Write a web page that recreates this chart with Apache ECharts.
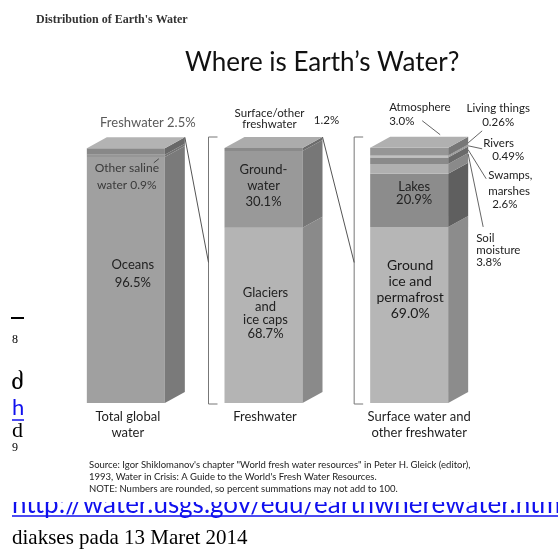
<!DOCTYPE html>
<html>
<head>
<meta charset="utf-8">
<script src="https://cdn.jsdelivr.net/npm/echarts@6/dist/echarts.min.js"></script>
<style>
  html, body { margin: 0; padding: 0; background: #fff; }
  #chart { width: 558px; height: 549px; }
</style>
</head>
<body>
<div id="chart"></div>
<script>
// bars, left to right
const categories = ['Total global\nwater', 'Freshwater', 'Surface water and\nother freshwater'];

// Total global water, bottom -> top
const globalNames = ['Oceans', 'Other saline water', 'Freshwater'];
const globalValues = [96.5, 0.9, 2.5];

// Freshwater, bottom -> top
const freshNames = ['Glaciers and ice caps', 'Groundwater', 'Surface/other freshwater'];
const freshValues = [68.7, 30.1, 1.2];

// Surface water and other freshwater, bottom -> top
const surfaceNames = ['Ground ice and permafrost', 'Lakes', 'Soil moisture', 'Swamps, marshes', 'Rivers', 'Living things', 'Atmosphere'];
const surfaceValues = [69.0, 20.9, 3.8, 2.6, 0.49, 0.26, 3.0];

const FONT = 'Lato, "Open Sans", sans-serif';
const SERIF = '"Liberation Serif", "DejaVu Serif", "DejaVu Sans", serif';
const BAR_W = 78, DX = 20, DY = 11;
const BAR_SHIFT = [0, -4, 0];

// [front, side] per segment
const faceColors = [
  [['#a0a0a0', '#7a7a7a'], ['#969696', '#737373'], ['#888888', '#686868']],
  [['#b4b4b4', '#8a8a8a'], ['#999999', '#777777'], ['#8a8a8a', '#6c6c6c']],
  [['#b6b6b6', '#8c8c8c'], ['#8c8c8c', '#5f5f5f'], ['#b0b0b0', '#8a8a8a'], ['#8a8a8a', '#6a6a6a'],
   ['#b8b8b8', '#969696'], ['#a6a6a6', '#848484'], ['#969696', '#777777']]
];
const topColors = ['#b3b3b3', '#acacac', '#b0b0b0'];

const fmt = v => (Number.isInteger(v) ? v.toFixed(1) : String(v)) + '%';
const sum = a => a.reduce((s, v) => s + v, 0);

function barSeries(catIdx, values) {
  let acc = 0;
  const data = values.map((v, i) => { const d = [catIdx, acc, acc + v, i]; acc += v; return d; });
  return {
    type: 'custom',
    coordinateSystem: 'cartesian2d',
    silent: true,
    animation: false,
    data: data,
    renderItem: (params, api) => {
      const lo = api.coord([api.value(0), api.value(1)]);
      const hi = api.coord([api.value(0), api.value(2)]);
      const seg = api.value(3);
      const x0 = lo[0] + BAR_SHIFT[catIdx] - BAR_W / 2, x1 = x0 + BAR_W;
      const yb = lo[1], yt = hi[1];
      const col = faceColors[catIdx][seg];
      const children = [
        { type: 'rect', shape: { x: x0, y: yt, width: BAR_W, height: yb - yt }, style: { fill: col[0] } },
        { type: 'polygon', shape: { points: [[x1, yt], [x1 + DX, yt - DY], [x1 + DX, yb - DY], [x1, yb]] }, style: { fill: col[1] } }
      ];
      if (seg === values.length - 1) {
        children.push({ type: 'polygon', shape: { points: [[x0, yt], [x0 + DX, yt - DY], [x1 + DX, yt - DY], [x1, yt]] }, style: { fill: topColors[catIdx] } });
      }
      return { type: 'group', children: children };
    }
  };
}

const option = {
  backgroundColor: '#fff',
  animation: false,
  title: [
    { text: "Distribution of Earth's Water", left: 36, top: 14, padding: 0,
      textStyle: { fontFamily: SERIF, fontWeight: 'bold', fontSize: 12, color: '#333' } },
    { text: 'Where is Earth\u2019s Water?', left: 185, top: 50, padding: 0,
      textStyle: { fontFamily: FONT, fontWeight: 'normal', fontSize: 26, color: '#111' } }
  ],
  grid: { left: 55, right: 78, top: 148, bottom: 146 },
  xAxis: { type: 'category', data: categories, show: false },
  yAxis: { type: 'value', min: 0, max: 100, show: false },
  series: [barSeries(0, globalValues), barSeries(1, freshValues), barSeries(2, surfaceValues)]
};

const chart = echarts.init(document.getElementById('chart'));
chart.setOption(option);

// ---- annotations, placed from the grid's own scales ----
const px = (c, v) => { const p = chart.convertToPixel({ gridIndex: 0 }, [c, v]); return [p[0] + BAR_SHIFT[c], p[1]]; };
const midOf = (vals, i) => sum(vals.slice(0, i)) + vals[i] / 2;
const frontMid = (c, vals, i) => px(c, midOf(vals, i));
const backMid = (c, vals, i) => { const p = px(c, midOf(vals, i)); return [p[0] + BAR_W / 2 + DX, p[1] - DY]; };

const g = [];
function T(text, x, y, o) {
  o = o || {};
  g.push({
    type: 'text', z: o.z || 50, silent: true,
    style: {
      text: text, x: x, y: y,
      fill: o.color || '#222',
      font: (o.weight || 'normal') + ' ' + (o.size || 13) + 'px ' + (o.family || FONT),
      textAlign: o.align || 'center', align: o.align || 'center',
      textVerticalAlign: o.va || 'middle', verticalAlign: o.va || 'middle',
      lineHeight: o.lh || Math.round((o.size || 13) * 1.2)
    }
  });
}
function L(points, o) {
  o = o || {};
  g.push({ type: 'polyline', z: o.z || 50, silent: true, shape: { points: points },
    style: { stroke: o.color || '#666', lineWidth: o.width || 1, fill: null } });
}

// inside labels
let a = frontMid(0, globalValues, 0);
T(globalNames[0] + '\n' + fmt(globalValues[0]), a[0] + 7, a[1] - 6, { lh: 18 });
a = frontMid(0, globalValues, 1);
T('Other saline\nwater ' + fmt(globalValues[1]), a[0] + 1, a[1] + 21, { size: 12, lh: 17, color: '#3a3a3a' });
L([[a[0] + 28, a[1] + 7], [a[0] + 33, a[1] + 3]], { color: '#444' });
a = backMid(0, globalValues, 2);
T(globalNames[2] + ' ' + fmt(globalValues[2]), a[0] - 37, a[1] - 18, { size: 13, color: '#5a5a5a' });

a = frontMid(1, freshValues, 0);
T('Glaciers\nand\nice caps\n' + fmt(freshValues[0]), a[0] + 2, a[1] - 2, { lh: 13.5 });
a = frontMid(1, freshValues, 1);
T('Ground-\nwater\n' + fmt(freshValues[1]), a[0], a[1] - 4, { lh: 16 });
a = backMid(1, freshValues, 2);
T('Surface/other\nfreshwater', a[0] - 53, a[1] - 20, { size: 11.5, lh: 11 });
T(fmt(freshValues[2]), a[0] + 4, a[1] - 18, { size: 11.5 });

a = frontMid(2, surfaceValues, 1);
T(surfaceNames[1] + '\n' + fmt(surfaceValues[1]), a[0] + 5, a[1] - 7, { lh: 13 });
a = frontMid(2, surfaceValues, 0);
T('Ground\nice and\npermafrost\n' + fmt(surfaceValues[0]), a[0] + 1, a[1] - 26, { size: 14, lh: 16, color: '#1a1a1a' });

// callouts on the right bar
a = backMid(2, surfaceValues, 6);
T(surfaceNames[6] + '\n' + fmt(surfaceValues[6]), a[0] - 79, a[1] - 26, { size: 11.5, lh: 14, align: 'left' });
L([[a[0] - 46, a[1] - 20], [a[0] - 28, a[1] - 6]]);
a = backMid(2, surfaceValues, 5);
T(surfaceNames[5] + '\n' + fmt(surfaceValues[5]), a[0] + 30, a[1] - 30, { size: 11.5, lh: 14 });
L([[a[0], a[1] - 2], [a[0] + 14, a[1] - 14]]);
a = backMid(2, surfaceValues, 4);
T(surfaceNames[4], a[0] + 15, a[1] - 3, { size: 11.5, align: 'left' });
T(fmt(surfaceValues[4]), a[0] + 24, a[1] + 10, { size: 11.5, align: 'left' });
L([[a[0], a[1]], [a[0] + 14, a[1] + 3]]);
a = backMid(2, surfaceValues, 3);
T('Swamps,\nmarshes', a[0] + 20, a[1] + 34, { size: 11.5, lh: 16, align: 'left' });
T(fmt(surfaceValues[3]), a[0] + 24, a[1] + 55, { size: 11.5, align: 'left' });
L([[a[0], a[1]], [a[0] + 18, a[1] + 29]]);
a = backMid(2, surfaceValues, 2);
T('Soil\nmoisture\n' + fmt(surfaceValues[2]), a[0] + 8, a[1] + 92, { size: 11.5, lh: 12, align: 'left' });
L([[a[0], a[1] - 4], [a[0] + 15, a[1] + 69]]);

// brackets and connectors
const BRACKET_GAP = 16, TICK = 9, JOIN = 0.47;
[1, 2].forEach(c => {
  const top = px(c, 100)[1] - DY, bot = px(c, 0)[1] + 1;
  const x = px(c, 0)[0] - BAR_W / 2 - BRACKET_GAP;
  L([[x + TICK, top], [x, top], [x, bot], [x + TICK, bot]], { color: '#777' });
  const prevVals = c === 1 ? globalValues : freshValues;
  const p = px(c - 1, sum(prevVals));
  L([[p[0] + BAR_W / 2 + DX, p[1] - DY], [x, top + JOIN * (bot - top)]], { color: '#555' });
});

// bar names
const catDx = [2, 1.5, 10];
categories.forEach((name, c) => {
  const p = px(c, 0);
  T(name, p[0] + catDx[c], p[1] + 6, { va: 'top', lh: 16, color: '#1e1e1e' });
});

// source note
T('Source: Igor Shiklomanov\'s chapter "World fresh water resources" in Peter H. Gleick (editor),\n' +
  '1993, Water in Crisis: A Guide to the World\'s Fresh Water Resources.\n' +
  'NOTE: Numbers are rounded, so percent summations may not add to 100.',
  89, 477, { size: 9.5, lh: 12, align: 'left', color: '#222', z: 60 });

// surrounding document text
g.push({ type: 'rect', z: 50, silent: true, shape: { x: 11, y: 317, width: 13, height: 2 }, style: { fill: '#000' } });
T('8', 12, 340, { family: SERIF, size: 12, align: 'left', color: '#000' });
T('\u10EB', 11, 383, { family: SERIF, size: 22, align: 'left', color: '#000' });
T('h', 12, 408, { family: FONT, size: 22, align: 'left', color: '#1010ee' });
L([[12, 420], [24, 420]], { color: '#1010ee', width: 1.5 });
T('d', 12, 431, { family: SERIF, size: 22, align: 'left', color: '#000' });
T('9', 12, 448, { family: SERIF, size: 12, align: 'left', color: '#000' });
T('http://water.usgs.gov/edu/earthwherewater.html', 12, 505, { size: 26, align: 'left', color: '#1010ee', z: 40 });
// the chart picture hides the upper part of the link line
g.push({ type: 'rect', z: 45, silent: true, shape: { x: 0, y: 480, width: 558, height: 22 }, style: { fill: '#fff' } });
L([[12, 516], [558, 516]], { color: '#1010ee', width: 1.5 });
T('diakses pada 13 Maret 2014', 12, 538, { family: SERIF, size: 21, align: 'left', color: '#000' });

chart.setOption({ graphic: { elements: g } });
</script>
</body>
</html>
